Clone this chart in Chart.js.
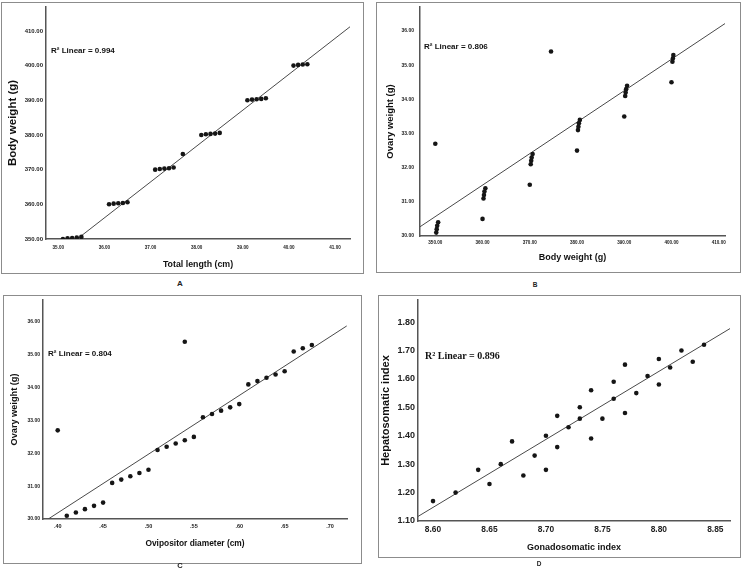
<!DOCTYPE html>
<html><head><meta charset="utf-8">
<script src="https://cdn.jsdelivr.net/npm/chart.js@4.4.1/dist/chart.umd.min.js"></script>
<style>
body{margin:0;background:#fff;width:744px;height:574px;position:relative;overflow:hidden;font-family:"Liberation Sans",Arial,sans-serif}
.frame{position:absolute;box-sizing:border-box;border:1px solid #8c8c8c}
canvas{position:absolute}
.lab{position:absolute;font-weight:bold;color:#222;transform:translate(-50%,-50%);line-height:1}
</style></head><body>
<div class="frame" style="left:1px;top:2px;width:363px;height:272px"></div>
<div class="frame" style="left:376px;top:2px;width:365px;height:271px"></div>
<div class="frame" style="left:3px;top:295px;width:359px;height:269px"></div>
<div class="frame" style="left:378px;top:295px;width:363px;height:263px"></div>
<canvas id="cA" width="361" height="270" style="left:2px;top:3px;width:361px;height:270px"></canvas>
<canvas id="cB" width="363" height="269" style="left:377px;top:3px;width:363px;height:269px"></canvas>
<canvas id="cC" width="357" height="267" style="left:4px;top:296px;width:357px;height:267px"></canvas>
<canvas id="cD" width="361" height="261" style="left:379px;top:296px;width:361px;height:261px"></canvas>
<div class="lab" style="left:180px;top:284px;font-size:8px">A</div>
<div class="lab" style="left:535px;top:285px;font-size:6.5px">B</div>
<div class="lab" style="left:180px;top:566px;font-size:7.5px">C</div>
<div class="lab" style="left:539px;top:564px;font-size:6.5px">D</div>
<script>
// ---- data ----
const totalLength = [35.1,35.2,35.3,35.4,35.5, 36.1,36.2,36.3,36.4,36.5, 37.1,37.2,37.3,37.4,37.5, 38.1,38.2,38.3,38.4,38.5, 39.1,39.2,39.3,39.4,39.5, 40.1,40.2,40.3,40.4, 37.7];
const bodyWeight = [350.0,350.2,350.3,350.4,350.6, 360.0,360.2,360.3,360.4,360.6, 370.0,370.2,370.3,370.4,370.6, 380.0,380.2,380.3,380.4,380.6, 390.0,390.2,390.3,390.4,390.6, 400.0,400.2,400.3,400.4, 374.5];
const ovaryWeight = [32.7,30.1,30.2,30.3,30.4, 30.5,31.1,31.2,31.3,31.4, 31.5,32.1,32.2,32.3,32.4, 32.5,33.1,33.2,33.3,33.4, 33.5,34.1,34.2,34.3,34.4, 34.5,35.1,35.2,35.3, 35.4];
const ovipositorDiameter = [0.40,0.41,0.42,0.43,0.44, 0.45,0.46,0.47,0.48,0.49, 0.50,0.51,0.52,0.53,0.54, 0.55,0.56,0.57,0.58,0.59, 0.60,0.61,0.62,0.63,0.64, 0.65,0.66,0.67,0.68, 0.54];
const gonadosomaticIndex = [8.60,8.62,8.64,8.65,8.66,8.67,8.68,8.69,8.70,8.70,8.71,8.71,8.72,8.73,8.73,8.74,8.74,8.75,8.76,8.76,8.77,8.77,8.78,8.79,8.80,8.80,8.81,8.82,8.83,8.84];
const hepatosomaticIndex = [1.17,1.20,1.28,1.23,1.30,1.38,1.26,1.33,1.40,1.28,1.47,1.36,1.43,1.50,1.46,1.56,1.39,1.46,1.59,1.53,1.65,1.48,1.55,1.61,1.67,1.58,1.64,1.70,1.66,1.72];

// fit line end points (data units)
const fitA = [[35.41,350.0],[41.325,411.2]];
const fitB = [[346.76,30.27],[411.33,36.22]];
const fitC = [[0.3896,30.0],[0.7184,35.88]];
const fitD = [[8.5867,1.116],[8.863,1.777]];

// tick labels
const xTicksA = ['35.00','36.00','37.00','38.00','39.00','40.00','41.00'];
const yTicksA = ['350.00','360.00','370.00','380.00','390.00','400.00','410.00'];
const xTicksB = ['350.00','360.00','370.00','380.00','390.00','400.00','410.00'];
const yTicksB = ['30.00','31.00','32.00','33.00','34.00','35.00','36.00'];
const xTicksC = ['.40','.45','.50','.55','.60','.65','.70'];
const yTicksC = ['30.00','31.00','32.00','33.00','34.00','35.00','36.00'];
const xTicksD = ['8.60','8.65','8.70','8.75','8.80','8.85'];
const yTicksD = ['1.10','1.20','1.30','1.40','1.50','1.60','1.70','1.80'];

const rLabels = ['R\u00B2 Linear = 0.994','R\u00B2 Linear = 0.806','R\u00B2 Linear = 0.804','R\u00B2 Linear = 0.896'];

// ---- drawing ----
const SANS = '"Liberation Sans", Arial, sans-serif';
const rlabelPlugin = {
  id:'rlabel',
  afterDatasetsDraw(chart, args, o){
    const {ctx, chartArea} = chart;
    ctx.save();
    ctx.font = o.font; ctx.fillStyle = '#111';
    ctx.textBaseline = 'middle'; ctx.textAlign = 'left';
    ctx.fillText(o.text, chartArea.left + o.dx, chartArea.top + o.dy);
    ctx.restore();
  }
};

function pts(xs, ys){ return xs.map((x,i)=>({x:x, y:ys[i]})); }

function makeChart(id, c){
  const labelMap = (arr)=>{ const m = {}; arr.forEach(s=>{ m[parseFloat(s).toFixed(4)] = s; }); return m; };
  const xm = labelMap(c.xTicks), ym = labelMap(c.yTicks);
  new Chart(document.getElementById(id), {
    type:'scatter',
    data:{ datasets:[
      { data: pts(c.xs, c.ys), pointRadius:2.3, pointBackgroundColor:'#151515', pointBorderWidth:0, showLine:false, order:1 },
      { data: c.fit.map(p=>({x:p[0], y:p[1]})), showLine:true, pointRadius:0, borderColor:'#4a4a4a', borderWidth:1, order:2 }
    ]},
    options:{
      responsive:false, animation:false, devicePixelRatio:1, events:[],
      layout:{ padding:c.pad },
      plugins:{ legend:{display:false}, tooltip:{enabled:false}, rlabel:c.rl },
      scales:{
        x:{ type:'linear', min:c.xmin, max:c.xmax,
          grid:{display:false, drawTicks:false}, border:{display:true, color:'#555', width:1.5},
          afterBuildTicks: s=>{ s.ticks = c.xTicks.map(t=>({value:parseFloat(t)})); },
          ticks:{ autoSkip:false, maxRotation:0, padding:c.xtp, color:'#222', font:{family:SANS, size:c.xtf, weight:'bold'},
            callback:(v)=> xm[Number(v).toFixed(4)] },
          title:{ display:true, text:c.xTitle, color:'#111', font:{family:SANS, size:c.xTf, weight:'bold', lineHeight:1}, padding:{top:0, bottom:c.xTp} },
          afterFit: s=>{ s.height = c.xh; s.paddingLeft = 0; s.paddingRight = 0; }
        },
        y:{ type:'linear', min:c.ymin, max:c.ymax,
          grid:{display:false, drawTicks:false}, border:{display:true, color:'#555', width:1.5},
          afterBuildTicks: s=>{ s.ticks = c.yTicks.map(t=>({value:parseFloat(t)})); },
          ticks:{ autoSkip:false, padding:c.ytp, color:'#222', font:{family:SANS, size:c.ytf, weight:'bold'},
            callback:(v)=> ym[Number(v).toFixed(4)] },
          title:{ display:true, text:c.yTitle, color:'#111', font:{family:SANS, size:c.yTf, weight:'bold', lineHeight:1}, padding:{top:c.yTp, bottom:0} },
          afterFit: s=>{ s.width = c.yw; s.paddingTop = 0; s.paddingBottom = 0; }
        }
      }
    },
    plugins:[rlabelPlugin]
  });
}

makeChart('cA', {
  xs: totalLength, ys: bodyWeight, fit: fitA,
  xmin:34.733, xmax:41.325, ymin:350, ymax:416.9,
  xTicks:xTicksA, yTicks:yTicksA,
  pad:{left:0, top:2, right:13, bottom:0}, yw:44, xh:34,
  xtp:6, xtf:4.6, ytp:3, ytf:6,
  xTitle:'Total length (cm)', xTf:8.8, xTp:4.5,
  yTitle:'Body weight (g)', yTf:11.5, yTp:5,
  rl:{text:rLabels[0], dx:5, dy:44, font:'bold 8px '+SANS}
});
makeChart('cB', {
  xs: bodyWeight, ys: ovaryWeight, fit: fitB,
  xmin:346.76, xmax:411.33, ymin:30, ymax:36.705,
  xTicks:xTicksB, yTicks:yTicksB,
  pad:{left:0, top:2, right:15, bottom:0}, yw:43, xh:36,
  xtp:4, xtf:4.6, ytp:6, ytf:5,
  xTitle:'Body weight (g)', xTf:9, xTp:9.5,
  yTitle:'Ovary weight (g)', yTf:9.5, yTp:8.5,
  rl:{text:rLabels[1], dx:4, dy:40, font:'bold 8px '+SANS}
});
makeChart('cC', {
  xs: ovipositorDiameter, ys: ovaryWeight, fit: fitC,
  xmin:0.3838, xmax:0.7187, ymin:30, ymax:36.67,
  xTicks:xTicksC, yTicks:yTicksC,
  pad:{left:0, top:1, right:14, bottom:0}, yw:39, xh:44,
  xtp:4, xtf:5.5, ytp:3, ytf:5,
  xTitle:'Ovipositor diameter (cm)', xTf:8.4, xTp:15.5,
  yTitle:'Ovary weight (g)', yTf:9.2, yTp:5.5,
  rl:{text:rLabels[2], dx:5, dy:54, font:'bold 8px '+SANS}
});
makeChart('cD', {
  xs: gonadosomaticIndex, ys: hepatosomaticIndex, fit: fitD,
  xmin:8.5867, xmax:8.863, ymin:1.10, ymax:1.8775,
  xTicks:xTicksD, yTicks:yTicksD,
  pad:{left:0, top:1, right:10, bottom:0}, yw:39, xh:36,
  xtp:4, xtf:8.4, ytp:3, ytf:9,
  xTitle:'Gonadosomatic index', xTf:9, xTp:4.5,
  yTitle:'Hepatosomatic index', yTf:11, yTp:1.5,
  rl:{text:rLabels[3], dx:7, dy:56, font:'bold 10px "Liberation Serif", "Times New Roman", serif'}
});
</script>
</body></html>
